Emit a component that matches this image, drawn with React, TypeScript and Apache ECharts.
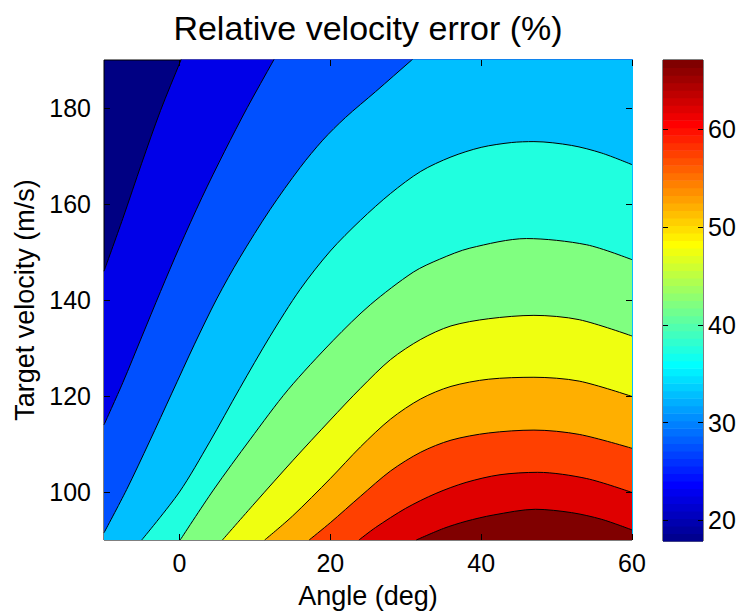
import React, { useEffect, useRef } from "react";
import * as echarts from "echarts";

// ---- axes ----
const angleRange = [-10, 60];
const velocityRange = [90, 190];
const angleTicks = [0, 20, 40, 60];
const velocityTicks = [100, 120, 140, 160, 180];
const colorbarRange = [17.9, 67.1];
const colorbarTicks = [20, 30, 40, 50, 60];

// ---- contour levels (%) and fill colours of the bands between them ----
const contourLevels = [20, 25, 30, 35, 40, 45, 50, 55, 60, 65];
const bandColors = [
  "#000083", "#0000e8", "#0050ff", "#00bfff", "#20ffdf", "#80ff80",
  "#efff10", "#ffaf00", "#ff4000", "#df0000", "#800000",
];

// ---- contour lines: [angle (deg), velocity (m/s)] ----
const contour20 = [[-10, 146], [-7.5, 157], [-5, 168.5], [-2.5, 179.5], [0.2, 190]];
const contour25 = [[-10, 114], [-7.5, 122.8], [-5, 132.3], [-2.5, 141.8], [0, 151], [3, 161.4], [6, 171], [9, 180.1], [12.5, 190]];
const contour30 = [[-10, 91.5], [-7, 100.5], [-4, 110.4], [-1, 120.6], [2, 130.8], [5, 140.4], [8, 148.8], [12, 158.8], [16, 167.6], [19, 173.3], [22, 178], [26, 183.4], [30.8, 190]];
const contour35 = [[-5, 90], [0, 100], [4, 110.4], [8, 121.6], [12, 132.4], [16, 142.2], [20, 150.2], [24, 156.6], [28, 162.2], [32, 166.8], [36, 169.8], [40, 171.8], [44, 172.8], [47, 173], [52, 172.2], [56, 170.6], [60, 168.2]];
const contour40 = [[0.1, 90], [4.5, 100.4], [9.4, 111], [14.4, 121.3], [20.4, 131.6], [25.3, 139], [31, 145.8], [34.5, 148.5], [38.5, 150.8], [46, 152.8], [54, 151.5], [60, 148.4]];
const contour45 = [[5.7, 90], [10, 97.7], [15, 106.5], [20, 115], [24, 121.6], [28, 127.6], [32, 131.8], [36, 134.6], [41, 136.1], [47, 136.8], [53, 135.9], [60, 132.5]];
const contour50 = [[11.3, 90], [15, 95], [20, 102.8], [24, 109.4], [28, 115.2], [32, 119.4], [36, 122], [41, 123.5], [47, 123.9], [53, 123.1], [60, 119.9]];
const contour55 = [[17.2, 90], [20, 93.6], [24, 99.1], [28, 104.4], [32, 108.3], [36, 110.8], [41, 112.3], [47, 112.9], [53, 112], [60, 109.1]];
const contour60 = [[23.8, 90], [26, 92.6], [30, 96.6], [34, 99.7], [38, 102], [42.5, 103.6], [47.5, 104.1], [54, 102.8], [60, 99.9]];
const contour65 = [[31.4, 90], [35, 92.4], [38, 93.9], [41.6, 95.2], [47.2, 96.4], [52, 95.7], [56, 94.3], [60, 92.1]];

const contours = [contour20, contour25, contour30, contour35, contour40, contour45, contour50, contour55, contour60, contour65];

// MATLAB "jet" colormap (64 entries) for the colour bar
function jetColormap(m: number): string[] {
  const n = Math.ceil(m / 4);
  const u: number[] = [];
  for (let i = 1; i <= n; i++) u.push(i / n);
  for (let i = 1; i < n; i++) u.push(1);
  for (let i = n; i >= 1; i--) u.push(i / n);
  const g0 = Math.ceil(n / 2) - (m % 4 === 1 ? 1 : 0);
  const J = Array.from({ length: m }, () => [0, 0, 0]);
  u.forEach((val, k) => {
    const g = g0 + k + 1;
    const r = g + n;
    const b = g - n;
    if (r >= 1 && r <= m) J[r - 1][0] = val;
    if (g >= 1 && g <= m) J[g - 1][1] = val;
    if (b >= 1 && b <= m) J[b - 1][2] = val;
  });
  return J.map(
    ([r, g, b]) => `rgb(${Math.round(r * 255)},${Math.round(g * 255)},${Math.round(b * 255)})`
  );
}

const FONT = "Liberation Sans, Arial, Helvetica, sans-serif";

export default function App() {
  const ref = useRef<HTMLDivElement>(null);
  useEffect(() => {
    document.body.style.margin = "0";
    if (!ref.current) return;
    const chart = echarts.init(ref.current, null, { renderer: "svg" });
    const jet = jetColormap(64);
    const [cMin, cMax] = colorbarRange;
    const step = (cMax - cMin) / jet.length;
    const xMax = angleRange[1];
    const yMax = velocityRange[1];

    const bandSeries = contours.map((pts, k) => {
      const last = pts[pts.length - 1];
      const prev = pts[pts.length - 2];
      let data = pts;
      if (last[1] >= yMax && last[0] < xMax) {
        // curve leaves through the top edge: continue it past the (clipped) frame
        // along its own direction, then close over the top so the band fills to the right
        const ext = [2 * last[0] - prev[0], 2 * last[1] - prev[1]];
        data = [...pts, ext, [xMax + 5, ext[1]]];
      }
      return {
        type: "line",
        name: `${contourLevels[k]}%`,
        xAxisIndex: 0,
        yAxisIndex: 0,
        data,
        smooth: 0.3,
        symbol: "none",
        silent: true,
        clip: true,
        lineStyle: { color: "#000", width: 1 },
        areaStyle: { color: bandColors[k + 1], opacity: 1, origin: "start" },
        z: 2 + k,
      };
    });

    const tickStyle = { show: true, inside: true, length: 6, lineStyle: { color: "#000", width: 1 } };
    const labelStyle = { color: "#000", fontSize: 25, fontFamily: FONT };
    const noLine = { show: false, onZero: false };

    chart.setOption({
      animation: false,
      title: {
        text: "Relative velocity error (%)",
        left: 363,
        top: 6,
        textAlign: "center",
        textStyle: { color: "#000", fontSize: 34, fontWeight: "normal", fontFamily: FONT },
      },
      grid: [
        { left: 104, right: 110, top: 60, bottom: 73, show: true, backgroundColor: bandColors[0], borderColor: "#000", borderWidth: 1 },
        { left: 663, right: 39, top: 60, bottom: 73, show: true, backgroundColor: "transparent", borderColor: "#000", borderWidth: 1 },
      ],
      xAxis: [
        {
          type: "value", gridIndex: 0, min: angleRange[0], max: angleRange[1], position: "bottom",
          axisLine: noLine, splitLine: { show: false },
          axisTick: { ...tickStyle, customValues: angleTicks },
          axisLabel: { ...labelStyle, margin: 10, customValues: angleTicks },
          name: "Angle (deg)", nameLocation: "middle", nameGap: 42,
          nameTextStyle: { color: "#000", fontSize: 27, fontFamily: FONT },
          z: 30,
        },
        {
          type: "value", gridIndex: 0, min: angleRange[0], max: angleRange[1], position: "top",
          axisLine: noLine, splitLine: { show: false },
          axisTick: { ...tickStyle, customValues: angleTicks },
          axisLabel: { show: false, customValues: angleTicks },
          z: 30,
        },
        {
          type: "value", gridIndex: 1, min: 0, max: 1, show: false,
        },
      ],
      yAxis: [
        {
          type: "value", gridIndex: 0, min: velocityRange[0], max: velocityRange[1], position: "left",
          axisLine: noLine, splitLine: { show: false },
          axisTick: { ...tickStyle, customValues: velocityTicks },
          axisLabel: { ...labelStyle, margin: 13, customValues: velocityTicks },
          name: "Target velocity (m/s)", nameLocation: "middle", nameGap: 60,
          nameTextStyle: { color: "#000", fontSize: 27, fontFamily: FONT },
          z: 30,
        },
        {
          type: "value", gridIndex: 0, min: velocityRange[0], max: velocityRange[1], position: "right",
          axisLine: noLine, splitLine: { show: false },
          axisTick: { ...tickStyle, customValues: velocityTicks },
          axisLabel: { show: false, customValues: velocityTicks },
          z: 30,
        },
        {
          type: "value", gridIndex: 1, min: cMin, max: cMax, position: "right",
          axisLine: noLine, splitLine: { show: false },
          axisTick: { ...tickStyle, length: 5, customValues: colorbarTicks },
          axisLabel: { ...labelStyle, margin: 5, customValues: colorbarTicks },
          z: 30,
        },
        {
          type: "value", gridIndex: 1, min: cMin, max: cMax, position: "left",
          axisLine: noLine, splitLine: { show: false },
          axisTick: { ...tickStyle, length: 5, customValues: colorbarTicks },
          axisLabel: { show: false, customValues: colorbarTicks },
          z: 30,
        },
      ],
      series: [
        ...bandSeries,
        {
          type: "custom",
          xAxisIndex: 2,
          yAxisIndex: 2,
          silent: true,
          data: jet.map((_, i) => [i]),
          renderItem: (_params: any, api: any) => {
            const i = api.value(0);
            const lo = cMin + i * step;
            const hi = lo + step;
            const p0 = api.coord([0, hi]);
            const p1 = api.coord([1, lo]);
            return {
              type: "rect",
              shape: { x: p0[0], y: p0[1], width: p1[0] - p0[0], height: p1[1] - p0[1] + 0.6 },
              style: { fill: jet[i] },
            };
          },
          z: 1,
        },
      ],
    });
    return () => chart.dispose();
  }, []);
  return <div ref={ref} style={{ width: 742, height: 614 }} />;
}
